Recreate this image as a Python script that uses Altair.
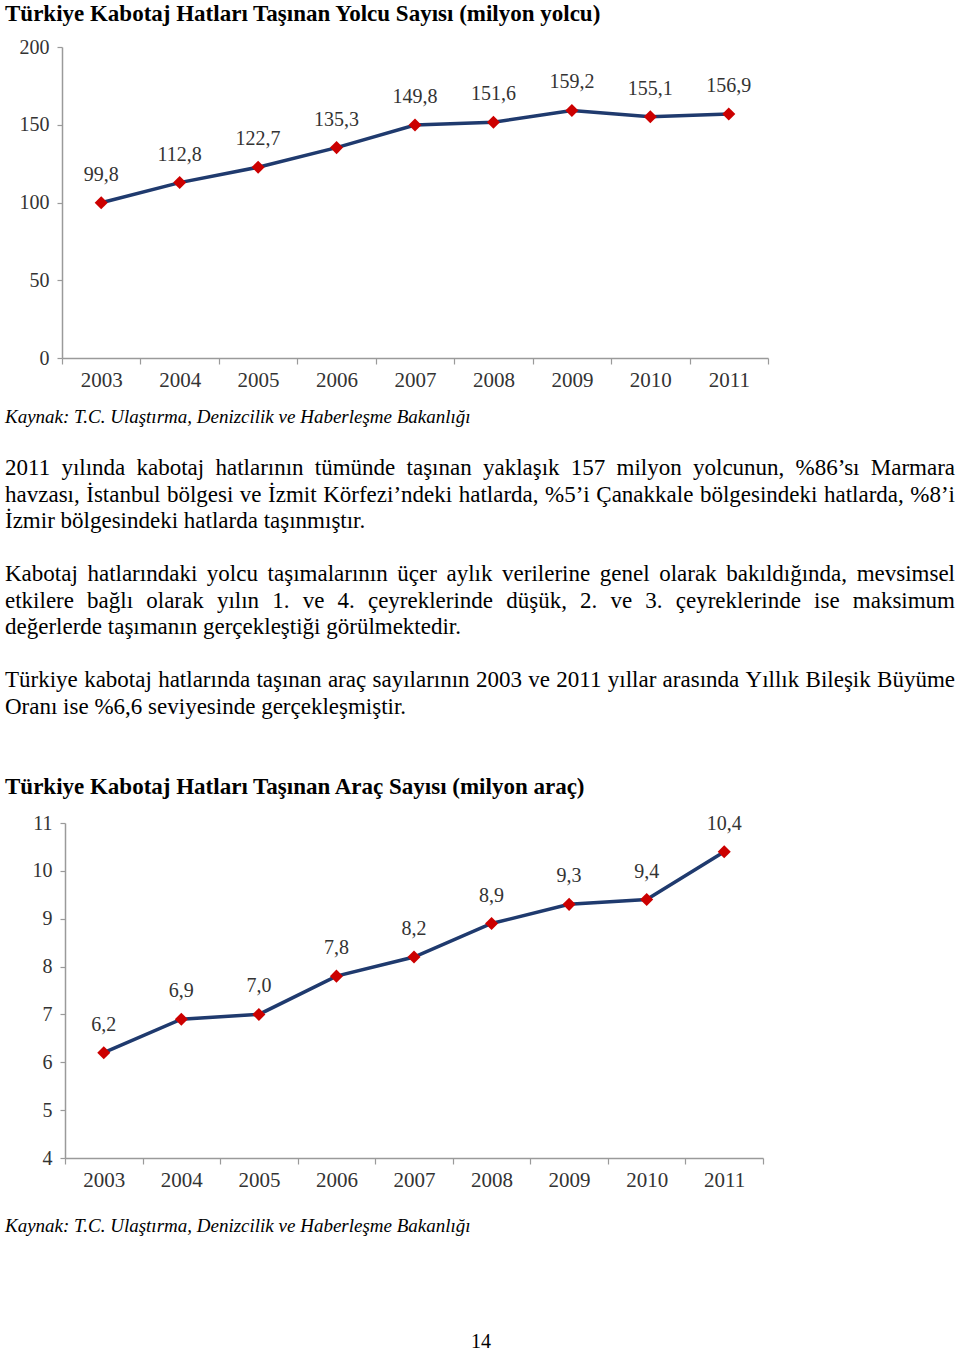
import glob
import altair as alt
import pandas as pd

years = ["2003", "2004", "2005", "2006", "2007", "2008", "2009", "2010", "2011"]
passengers = [99.8, 112.8, 122.7, 135.3, 149.8, 151.6, 159.2, 155.1, 156.9]
vehicles = [6.2, 6.9, 7.0, 7.8, 8.2, 8.9, 9.3, 9.4, 10.4]
ticks_passengers = [0, 50, 100, 150, 200]
ticks_vehicles = [4, 5, 6, 7, 8, 9, 10, 11]

title1 = "Türkiye Kabotaj Hatları Taşınan Yolcu Sayısı (milyon yolcu)"
title2 = "Türkiye Kabotaj Hatları Taşınan Araç Sayısı (milyon araç)"
source = "Kaynak: T.C. Ulaştırma, Denizcilik ve Haberleşme Bakanlığı"
para1 = [
    "2011 yılında kabotaj hatlarının tümünde taşınan yaklaşık 157 milyon yolcunun, %86\u2019sı Marmara",
    "havzası, İstanbul bölgesi ve İzmit Körfezi\u2019ndeki hatlarda, %5\u2019i Çanakkale bölgesindeki hatlarda, %8\u2019i",
    "İzmir bölgesindeki hatlarda taşınmıştır.",
]
para2 = [
    "Kabotaj hatlarındaki  yolcu taşımalarının üçer aylık verilerine genel olarak bakıldığında, mevsimsel",
    "etkilere bağlı olarak yılın 1. ve 4. çeyreklerinde düşük, 2. ve 3. çeyreklerinde ise maksimum",
    "değerlerde taşımanın gerçekleştiği görülmektedir.",
]
para3 = [
    "Türkiye kabotaj hatlarında taşınan araç sayılarının 2003 ve 2011 yıllar arasında Yıllık Bileşik Büyüme",
    "Oranı ise %6,6 seviyesinde gerçekleşmiştir.",
]
page_number = "14"

SERIF = "Liberation Serif"
LINE_COLOR = "#1f3a6e"
MARK_COLOR = "#cc0000"
AXIS_COLOR = "#9a9a9a"
LABEL_COLOR = "#333333"
W, H = 960, 1351
BODY = 23
LEFT, RIGHT = 5, 955

# optional font measurement for justified lines
_measure = None
try:
    from PIL import ImageFont
    paths = glob.glob("/usr/share/fonts/**/LiberationSerif-Regular.ttf", recursive=True)
    if paths:
        _font = ImageFont.truetype(paths[0], BODY)
        _measure = _font.getlength
except Exception:
    _measure = None


def fmt(v):
    return f"{v:.1f}".replace(".", ",")


def line_chart(values, ydomain, yticks, xrange, yrange, left):
    df = pd.DataFrame({"year": years, "value": values, "label": [fmt(v) for v in values]})
    x = alt.X(
        "year:O",
        sort=years,
        bandPosition=0.5,
        scale=alt.Scale(type="band", domain=years, range=xrange, paddingInner=0, paddingOuter=0),
        axis=alt.Axis(
            orient="bottom", offset=yrange[0] - H, title=None, tickBand="extent",
            tickSize=6, labelPadding=5, labelFontSize=21, labelFont=SERIF,
            labelColor=LABEL_COLOR, domainColor=AXIS_COLOR, tickColor=AXIS_COLOR,
            domainWidth=1.5, tickWidth=1.2, labelAngle=0, grid=False,
        ),
    )
    y = alt.Y(
        "value:Q",
        scale=alt.Scale(domain=ydomain, range=yrange, nice=False, zero=False),
        axis=alt.Axis(
            orient="left", offset=-left, title=None, values=yticks, tickSize=5,
            labelPadding=8, labelFontSize=20, labelFont=SERIF, labelColor=LABEL_COLOR,
            domainColor=AXIS_COLOR, tickColor=AXIS_COLOR, domainWidth=1.5,
            tickWidth=1.2, grid=False,
        ),
    )
    base = alt.Chart(df).encode(x=x, y=y)
    ln = base.mark_line(color=LINE_COLOR, strokeWidth=3.5)
    pts = base.mark_point(shape="diamond", filled=True, size=170, color=MARK_COLOR, opacity=1)
    lbl = base.mark_text(dy=-28, fontSize=20, font=SERIF, color=LABEL_COLOR).encode(text="label:N")
    return alt.layer(ln, pts, lbl)


def text_line(txt, ypos, size=BODY, weight="normal", style="normal", xpos=LEFT, align="left"):
    return alt.Chart(alt.Data(values=[{}])).mark_text(
        text=txt, font=SERIF, fontSize=size, fontWeight=weight, fontStyle=style,
        color="#000000", align=align, baseline="alphabetic",
    ).encode(x=alt.value(xpos), y=alt.value(ypos))


def justified(txt, ypos):
    words = txt.split()
    if _measure is None or len(words) < 2:
        return [text_line(txt, ypos)]
    widths = [_measure(w) for w in words]
    gap = (RIGHT - LEFT - sum(widths)) / (len(words) - 1)
    out = []
    xpos = LEFT
    for w, wd in zip(words, widths):
        out.append(text_line(w, ypos, xpos=round(xpos, 2)))
        xpos += wd + gap
    return out


def paragraph(lines, y0, step=26.5):
    out = []
    for i, t in enumerate(lines):
        yy = y0 + i * step
        if i < len(lines) - 1:
            out += justified(t, yy)
        else:
            out.append(text_line(t, yy))
    return out


c1 = line_chart(passengers, [0, 200], ticks_passengers, [62, 768], [358, 47], 62)
c2 = line_chart(vehicles, [4, 11], ticks_vehicles, [65, 763], [1158, 823], 65)

texts = [
    text_line(title1, 21, size=23, weight="bold"),
    text_line(source, 423, size=19, style="italic"),
]
texts += paragraph(para1, 475)
texts += paragraph(para2, 581)
texts += paragraph(para3, 687)
texts.append(text_line(title2, 794, size=23, weight="bold"))
texts.append(text_line(source, 1232, size=19, style="italic"))
texts.append(text_line(page_number, 1348, size=20, xpos=481, align="center"))

chart = (
    alt.layer(c1, c2, *texts)
    .resolve_scale(x="independent", y="independent")
    .properties(width=W, height=H, autosize="none", padding=0, background="white")
    .configure_view(strokeWidth=0)
)

chart.save("out.html", embed_options={"renderer": "svg", "actions": False})
